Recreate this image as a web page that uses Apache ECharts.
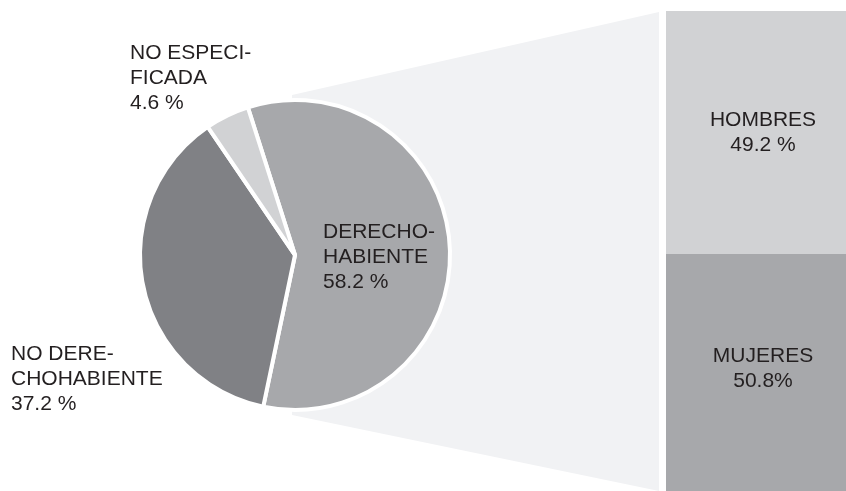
<!DOCTYPE html>
<html>
<head>
<meta charset="utf-8">
<script src="https://cdn.jsdelivr.net/npm/echarts@6/dist/echarts.min.js"></script>
<style>
html,body{margin:0;padding:0;background:#fff;}
#chart{width:846px;height:491px;}
</style>
</head>
<body>
<div id="chart"></div>
<script>
// Pie data
const categories = ['DERECHOHABIENTE', 'NO DERECHOHABIENTE', 'NO ESPECIFICADA'];
const pieLabels = ['DERECHO-\nHABIENTE', 'NO DERE-\nCHOHABIENTE', 'NO ESPECI-\nFICADA'];
const values = [58.2, 37.2, 4.6];
// Bar (breakdown of DERECHOHABIENTE)
const sexCategories = ['HOMBRES', 'MUJERES'];
const sexValues = [49.2, 50.8];
const sexSuffix = [' %', '%'];

const pieColors = ['#a7a8ab', '#808185', '#d1d2d4'];
const barColors = ['#d1d2d4', '#a7a8ab'];
const labelPos = [[323, 220], [11, 342], [130, 41]];
const FONT = '"Liberation Sans", Arial, Helvetica, sans-serif';

const chart = echarts.init(document.getElementById('chart'));
chart.setOption({
  animation: false,
  backgroundColor: '#ffffff',
  graphic: [{
    type: 'polygon',
    z: -10,
    silent: true,
    shape: { points: [[292, 95], [659, 12], [659, 491], [292, 415]] },
    style: { fill: '#f1f2f4' }
  }],
  grid: { left: 666, top: 11, width: 194, height: 494, outerBoundsMode: 'none', containLabel: false },
  xAxis: { type: 'category', data: ['x'], show: false },
  yAxis: { type: 'value', min: 0, max: 100, show: false },
  series: [
    {
      type: 'bar', stack: 's', barCategoryGap: 0,
      name: sexCategories[1],
      data: [sexValues[1]],
      itemStyle: { color: barColors[1] },
      label: {
        show: true, position: 'inside', offset: [0, -11],
        formatter: () => sexCategories[1] + '\n' + sexValues[1] + sexSuffix[1],
        color: '#231f20', fontFamily: FONT, fontSize: 21, lineHeight: 25, align: 'center'
      }
    },
    {
      type: 'bar', stack: 's', barCategoryGap: 0,
      name: sexCategories[0],
      data: [sexValues[0]],
      itemStyle: { color: barColors[0] },
      label: {
        show: true, position: 'inside',
        formatter: () => sexCategories[0] + '\n' + sexValues[0] + sexSuffix[0],
        color: '#231f20', fontFamily: FONT, fontSize: 21, lineHeight: 25, align: 'center'
      }
    },
    {
      type: 'pie',
      center: [295, 255],
      radius: 155,
      startAngle: 107.7,
      clockwise: true,
      data: categories.map((c, i) => ({ name: c, value: values[i], itemStyle: { color: pieColors[i] } })),
      itemStyle: { borderColor: '#ffffff', borderWidth: 4 },
      label: {
        show: true,
        position: 'inside',
        formatter: (p) => pieLabels[p.dataIndex] + '\n' + values[p.dataIndex] + ' %',
        color: '#231f20', fontFamily: FONT, fontSize: 21, lineHeight: 25, align: 'left'
      },
      labelLine: { show: false },
      labelLayout: (p) => ({ x: labelPos[p.dataIndex][0], y: labelPos[p.dataIndex][1], align: 'left', verticalAlign: 'top' })
    }
  ]
});
</script>
</body>
</html>
